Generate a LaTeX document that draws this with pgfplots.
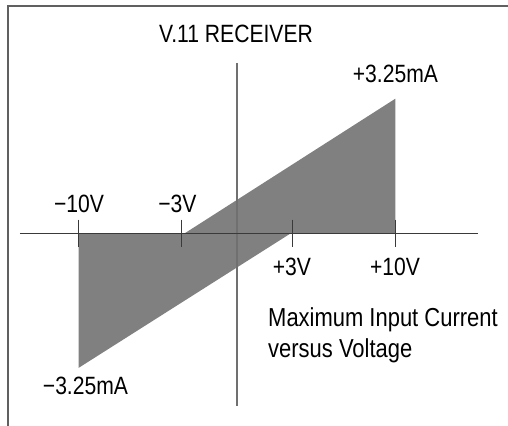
\documentclass[border=0pt]{standalone}
\usepackage{fontspec}
\setmainfont{Liberation Sans}[FakeStretch=0.845]
\usepackage{pgfplots}
\pgfplotsset{compat=1.18}
\definecolor{fillgray}{HTML}{808080}
\definecolor{axisdark}{HTML}{3A3A3A}
\definecolor{axisgray}{HTML}{707070}
\definecolor{bordergray}{HTML}{606060}
\newcommand{\mns}{\char"2212\relax}
\begin{document}
\begin{tikzpicture}
\begin{axis}[name=ax,
  width=508bp, height=426bp, scale only axis,
  xmin=-14.97, xmax=17.12, ymin=-4.655, ymax=5.635,
  enlargelimits=false, hide axis, clip=false,
]
% shaded region of allowed input current (V, mA)
\addplot[fill=fillgray, draw=none] coordinates {
  (-10,0) (-3.3,0) (10,3.25) (10,0) (3.4,0) (-10,-3.25)
} -- cycle;
% frame (partial)
\draw[bordergray, line width=2bp] (axis cs:-14.47,-4.655) -- (axis cs:-14.47,5.483) -- (axis cs:17.12,5.483);
% axes
\draw[axisgray, line width=1.6bp] (axis cs:0,4.11) -- (axis cs:0,-4.17);
\draw[axisdark, line width=1.4bp] (axis cs:-13.71,0) -- (axis cs:15.22,0);
\draw[axisdark, line width=1.2bp] (axis cs:-10,0.33) -- (axis cs:-10,-0.33);
\draw[axisdark, line width=1.2bp] (axis cs:-3.49,0.33) -- (axis cs:-3.49,-0.33);
\draw[axisdark, line width=1.2bp] (axis cs:3.49,0.33) -- (axis cs:3.49,-0.33);
\draw[axisdark, line width=1.2bp] (axis cs:10,0.33) -- (axis cs:10,-0.33);
% labels
\begin{scope}[every node/.style={inner sep=0pt, font=\fontsize{25bp}{29bp}\selectfont}]
\node[anchor=base] at (axis cs:-0.06,4.60) {V.11 RECEIVER};
\node[anchor=base] at (axis cs:-9.98,0.51) {\mns 10V};
\node[anchor=base] at (axis cs:-3.76,0.51) {\mns 3V};
\node[anchor=base] at (axis cs:3.47,-1.01) {+3V};
\node[anchor=base] at (axis cs:9.98,-1.01) {+10V};
\node[anchor=base] at (axis cs:10.01,3.65) {+3.25mA};
\node[anchor=base] at (axis cs:-9.57,-3.90) {\mns 3.25mA};
\node[anchor=base west, font=\fontsize{26bp}{30bp}\selectfont] at (axis cs:1.96,-2.26) {Maximum Input Current};
\node[anchor=base west, font=\fontsize{26bp}{30bp}\selectfont] at (axis cs:1.96,-3.01) {versus Voltage};
\end{scope}
\end{axis}
\pgfresetboundingbox
\path[use as bounding box] (ax.south west) rectangle (ax.north east);
\end{tikzpicture}
\end{document}
